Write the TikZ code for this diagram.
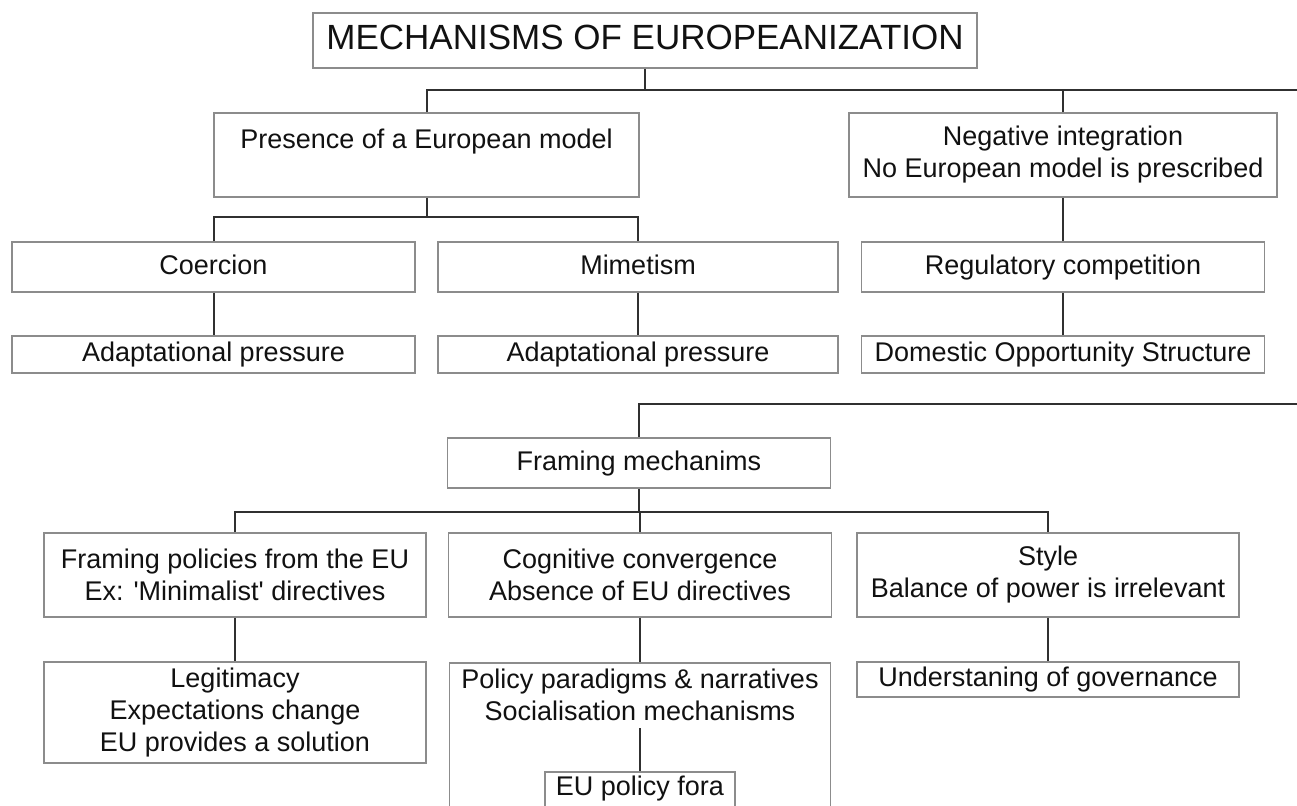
\documentclass[tikz,border=0pt]{standalone}
\usepackage{fontspec}
\setmainfont{Liberation Sans}
\newfontfamily\mainf{Liberation Sans}
\definecolor{boxgray}{HTML}{8C8C8C}
\definecolor{linec}{HTML}{303030}
\definecolor{txtc}{HTML}{111111}
\begin{document}
\begin{tikzpicture}[x=1pt,y=-1pt,
  box/.style={draw=boxgray, line width=1.6pt, fill=white, inner sep=0pt, align=center,
              font=\mainf\fontsize{27}{32}\selectfont, text=txtc},
  one/.style={text height=19.5pt, text depth=5.5pt},
  plain/.style={inner sep=0pt, align=center, font=\mainf\fontsize{27}{32}\selectfont, text=txtc},
  conn/.style={draw=linec, line width=2pt}]
\clip (0,0) rectangle (1297,805);
\fill[white] (0,0) rectangle (1297,805);

% top part
\node[box, font=\mainf\fontsize{35}{40}\selectfont, text height=25pt, text depth=7pt, minimum width=664pt, minimum height=55pt] (title) at (645,40.5) {MECHANISMS OF EUROPEANIZATION};
\node[box, minimum width=425pt, minimum height=84pt] (presence) at (426.5,155) {Presence of a European model\\\mbox{}};
\node[box, minimum width=428pt, minimum height=84pt] (negative) at (1063,155) {Negative integration\\No European model is prescribed};
\node[box, one, minimum width=403pt, minimum height=50pt] (coercion) at (213.5,267) {Coercion};
\node[box, one, minimum width=400pt, minimum height=50pt] (mimetism) at (638,267) {Mimetism};
\node[box, one, minimum width=403pt, minimum height=50pt] (regulatory) at (1063,267) {Regulatory competition};
\node[box, one, minimum width=403pt, minimum height=37pt] (adapt1) at (213.5,354.5) {Adaptational pressure};
\node[box, one, minimum width=400pt, minimum height=37pt] (adapt2) at (638,354.5) {Adaptational pressure};
\node[box, one, minimum width=403pt, minimum height=37pt] (domestic) at (1063,354.5) {Domestic Opportunity Structure};

% bottom part
\node[box, one, minimum width=383pt, minimum height=50pt] (framing) at (639,463) {Framing mechanims};
\node[box, minimum width=382pt, minimum height=84pt] (fpolicies) at (235,575) {Framing policies from the EU\\Ex: 'Minimalist' directives};
\node[box, minimum width=383pt, minimum height=84pt] (cognitive) at (640,575) {Cognitive convergence\\Absence of EU directives};
\node[box, minimum width=382pt, minimum height=84pt] (style) at (1048,575) {Style\\Balance of power is irrelevant};
\node[box, minimum width=382pt, minimum height=101pt] (legit) at (235,712.5) {Legitimacy\\Expectations change\\EU provides a solution};
\node[box, minimum width=381pt, minimum height=200pt, anchor=north] (policyp) at (640,662) {};
\node[plain] (policyptxt) at (640,694.5) {Policy paradigms \& narratives\\Socialisation mechanisms};
\node[box, minimum width=190pt, minimum height=70pt, anchor=north] (fora) at (640,771) {};
\node[plain, one] (foratxt) at (640,788) {EU policy fora};
\node[box, one, minimum width=382pt, minimum height=35pt] (underst) at (1048,679.5) {Understaning of governance};

% connectors, top
\coordinate (busA) at (1297,90);
\coordinate (busB) at (0,217);
\draw[conn] (title.south) -- (title.south |- busA);
\draw[conn] (presence.north) |- (busA);
\draw[conn] (negative.north) -- (negative.north |- busA);
\draw[conn] (presence.south) -- (presence.south |- busB);
\draw[conn] (coercion.north) |- (mimetism.north |- busB) -- (mimetism.north);
\draw[conn] (coercion.south) -- (adapt1.north);
\draw[conn] (mimetism.south) -- (adapt2.north);
\draw[conn] (negative.south) -- (regulatory.north);
\draw[conn] (regulatory.south) -- (domestic.north);

% connectors, bottom
\coordinate (busC) at (1297,404);
\coordinate (busD) at (0,512);
\coordinate (ptop) at (640,728);
\draw[conn] (framing.north) |- (busC);
\draw[conn] (framing.south) -- (framing.south |- busD);
\draw[conn] (fpolicies.north) |- (style.north |- busD) -- (style.north);
\draw[conn] (cognitive.north) -- (cognitive.north |- busD);
\draw[conn] (fpolicies.south) -- (legit.north);
\draw[conn] (cognitive.south) -- (policyp.north);
\draw[conn] (style.south) -- (underst.north);
\draw[conn] (ptop) -- (fora.north);
\end{tikzpicture}
\end{document}
